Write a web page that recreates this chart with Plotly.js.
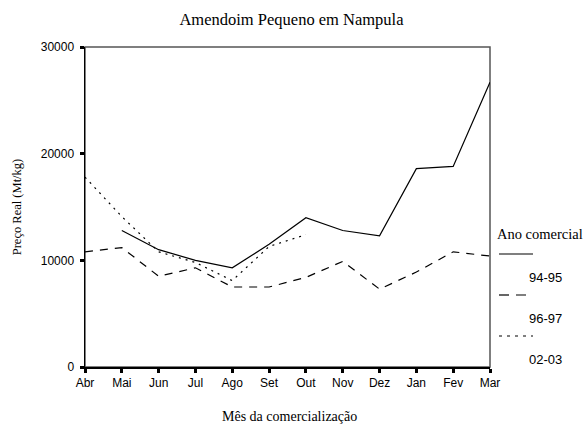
<!DOCTYPE html>
<html>
<head>
<meta charset="utf-8">
<script src="https://cdn.plot.ly/plotly-3.0.1.min.js"></script>
<style>html,body{margin:0;padding:0;background:#fff;}#chart{width:583px;height:431px;}</style>
</head>
<body>
<div id="chart"></div>
<script>
var months = ['Abr','Mai','Jun','Jul','Ago','Set','Out','Nov','Dez','Jan','Fev','Mar'];
var seriesNames = ['94-95','96-97','02-03'];
var s9495 = [null,12800,11000,10000,9300,11500,14000,12800,12300,18600,18800,26700];
var s9697 = [10800,11200,8500,9300,7500,7500,8400,9900,7300,8900,10800,10400];
var s0203 = [17800,14100,10800,9800,8100,11300,12400,null,null,null,null,null];
var yTicks = [0,10000,20000,30000];

var dashes = ['solid','8px,7px','2px,5px'];
var legendDash = ['solid','10px,7px','3px,5px'];
var values = [s9495, s9697, s0203];

var W = 583, H = 431;
var m = {l:85, r:93, t:47, b:64};
var pw = W - m.l - m.r, ph = H - m.t - m.b;
function px2x(px){ return (px - m.l)/pw; }
function py2y(py){ return (H - m.b - py)/ph; }

var traces = values.map(function(v,i){
  return {x: months, y: v, type:'scatter', mode:'lines', name: seriesNames[i],
    line:{color:'#000', width:1.2, dash:dashes[i]}, showlegend:false, connectgaps:false, hoverinfo:'skip'};
});

var shapes = [
  {type:'rect', xref:'paper', yref:'paper', x0:0, x1:1, y0:0, y1:1, line:{color:'#555', width:1.5}, layer:'below'}
];
var annotations = [
  {text:'Mês da comercialização', xref:'paper', yref:'paper', x:px2x(289), y:py2y(416), showarrow:false,
   font:{family:'Liberation Serif', size:14, color:'#000'}, xanchor:'center', yanchor:'middle'},
  {text:'Ano comercial', xref:'paper', yref:'paper', x:px2x(495), y:py2y(234), showarrow:false,
   font:{family:'Liberation Serif', size:14.5, color:'#000'}, xanchor:'left', yanchor:'middle'}
];
seriesNames.forEach(function(n,i){
  var ly = 254 + 41*i;
  shapes.push({type:'line', xref:'paper', yref:'paper', x0:px2x(499), x1:px2x(533), y0:py2y(ly), y1:py2y(ly),
    line:{color:'#000', width:1.2, dash:legendDash[i]}});
  annotations.push({text:n, xref:'paper', yref:'paper', x:px2x(527), y:py2y(ly+23), showarrow:false,
    font:{family:'Liberation Sans', size:13, color:'#000'}, xanchor:'left', yanchor:'middle'});
});

var layout = {
  width:W, height:H, margin:m,
  paper_bgcolor:'#fff', plot_bgcolor:'#fff',
  title:{text:'Amendoim Pequeno em Nampula', x:0.5, xref:'container', y:1-19/H, yref:'container', yanchor:'middle',
    font:{family:'Liberation Serif', size:16.5, color:'#000'}},
  xaxis:{type:'category', categoryarray:months, range:[0,11], showgrid:false, zeroline:false,
    showline:true, linecolor:'#000', linewidth:1.5, ticks:'outside', ticklen:4, tickwidth:3, tickcolor:'#000',
    tickfont:{family:'Liberation Sans', size:12, color:'#000'}, fixedrange:true},
  yaxis:{range:[0,30000], tickvals:yTicks, ticktext:yTicks.map(String), showgrid:false, zeroline:false,
    showline:true, linecolor:'#000', linewidth:1.5, ticks:'outside', ticklen:4, tickwidth:3, tickcolor:'#000',
    ticklabelstandoff:3,
    tickfont:{family:'Liberation Sans', size:12, color:'#000'},
    title:{text:'Preço Real (Mt/kg)', standoff:16, font:{family:'Liberation Serif', size:12.5, color:'#000'}}, fixedrange:true},
  shapes:shapes, annotations:annotations, showlegend:false
};
Plotly.newPlot('chart', traces, layout, {staticPlot:true});
</script>
</body>
</html>
